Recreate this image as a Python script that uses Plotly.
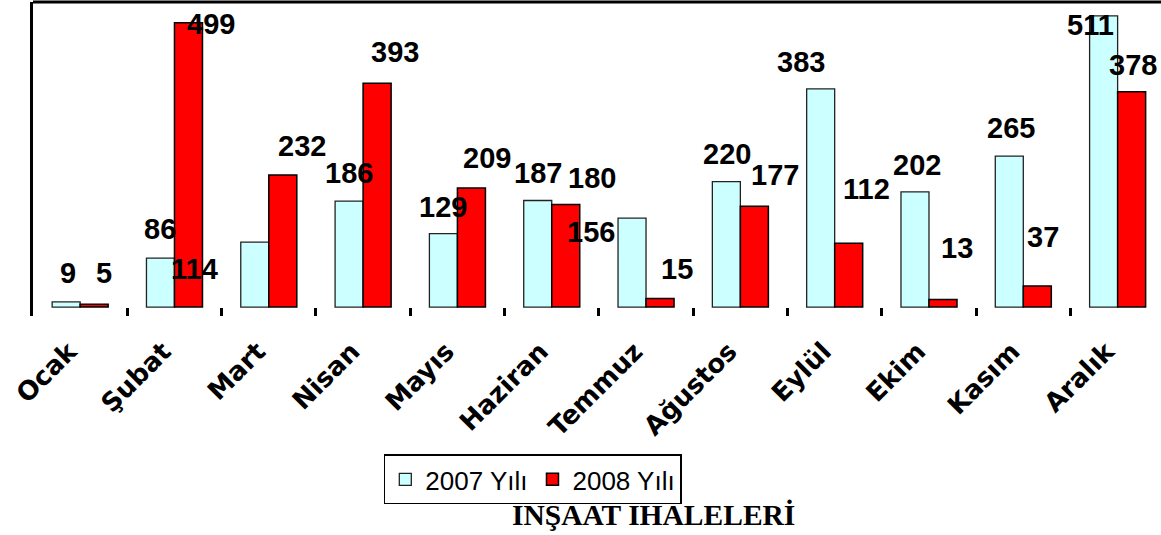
import plotly.graph_objects as go

months = ["Ocak", "Şubat", "Mart", "Nisan", "Mayıs", "Haziran", "Temmuz",
          "Ağustos", "Eylül", "Ekim", "Kasım", "Aralık"]
values_2007 = [9, 86, 114, 186, 129, 187, 156, 220, 383, 202, 265, 511]
values_2008 = [5, 499, 232, 393, 209, 180, 15, 177, 112, 13, 37, 378]
series_names = ["2007 Yılı", "2008 Yılı"]
title_text = "INŞAAT IHALELERİ"

# label pixel offsets (as placed in the original picture)
dx_2007 = [2, 0, -60, 0, 0, 0, -41, 1, -20, 2, 2, -13]
dy_2007 = [1, 1, -55, 0, -1, 0, -42, 0, -1, -1, 0, -37]
dx_2008 = [10, 23, 19, 18, 16, 26, 17, 21, 18, 14, 6, 1]
dy_2008 = [3, -29, 1, 3, 2, -1, 1, 3, 26, 24, 21, -1]

fig = go.Figure()
fig.add_trace(go.Bar(x=months, y=values_2007, name=series_names[0],
                     marker=dict(color="#CCFFFF", line=dict(color="#222222", width=1.3)),
                     hoverinfo="skip"))
fig.add_trace(go.Bar(x=months, y=values_2008, name=series_names[1],
                     marker=dict(color="#FF0000", line=dict(color="#000000", width=1.5)),
                     hoverinfo="skip"))

label_font = dict(family="Liberation Sans, Arial", size=29, color="black", weight="bold")
half = 14
for vals, dxs, dys, off in [(values_2007, dx_2007, dy_2007, -half),
                            (values_2008, dx_2008, dy_2008, half)]:
    for m, v, dx, dy in zip(months, vals, dxs, dys):
        fig.add_annotation(x=m, y=v, xref="x", yref="y", text=str(v),
                           showarrow=False, xanchor="center", yanchor="middle",
                           xshift=off + dx, yshift=28 + dy, font=label_font)

fig.add_annotation(x=0.5505, y=-0.635, xref="paper", yref="paper", text=title_text,
                   showarrow=False, xanchor="center", yanchor="middle",
                   font=dict(family="Liberation Serif, Times New Roman", size=29.5,
                             color="black", weight="bold"))

fig.add_shape(type="line", xref="paper", yref="paper", x0=0, x1=1, y0=1, y1=1,
              line=dict(color="black", width=3))

fig.update_layout(
    width=1161, height=535,
    margin=dict(l=33, r=0, t=2, b=219, autoexpand=False),
    paper_bgcolor="white", plot_bgcolor="white",
    barmode="group", bargap=0.406, bargroupgap=0,
    showlegend=True,
    legend=dict(orientation="h", x=0.311, y=-0.441, xanchor="left", yanchor="top",
                bordercolor="black", borderwidth=1.5, bgcolor="white",
                font=dict(family="Liberation Sans, Arial", size=26, color="black"),
                itemwidth=30, tracegroupgap=0),
    xaxis=dict(range=[-0.5, 11.46], showline=False, showgrid=False, zeroline=False,
               automargin=False,
               ticks="inside", tickson="boundaries", ticklen=8, tickwidth=3,
               tickcolor="black", tickangle=-45, ticklabelstandoff=14,
               ticklabelshift=-11,
               tickfont=dict(family="DejaVu Sans", size=26, color="black", weight="bold")),
    yaxis=dict(range=[-15.75, 535.5], showline=True, linecolor="black", linewidth=3,
               automargin=False,
               showgrid=False, zeroline=False, showticklabels=False, ticks=""),
)

fig.write_html(
    "out.html",
    config={"displayModeBar": False},
    post_script="document.body.style.margin='0';document.body.style.overflow='hidden';",
)
